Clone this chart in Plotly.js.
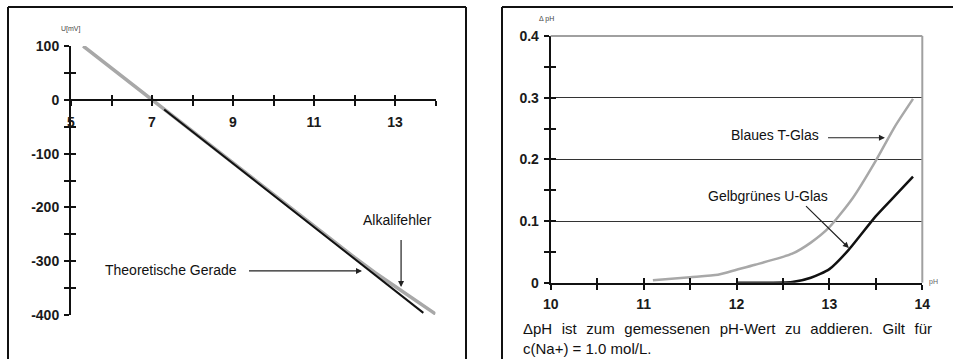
<!DOCTYPE html>
<html><head><meta charset="utf-8">
<script src="https://cdn.plot.ly/plotly-3.0.1.min.js"></script>
<style>html,body{margin:0;padding:0;background:#fff;}#chart{width:953px;height:359px;}</style>
</head><body><div id="chart"></div>
<script>
// ---- Left chart: U[mV] vs pH ----
const alkaliPH = [5.3, 7, 9, 11, 12, 12.5, 13, 13.5, 14];
const alkaliU  = [100, 0, -118, -236, -293, -321, -347, -373, -398];
const theoPH   = [7.3, 13.7];
const theoU    = [-18, -396];
const leftXTickVals = [5, 7, 9, 11, 13];
const leftXTickText = ['5', '7', '9', '11', '13'];
const leftYTickVals = [100, 0, -100, -200, -300, -400];
const leftYTickText = ['100', '0', '-100', '-200', '-300', '-400'];

// ---- Right chart: delta pH vs pH ----
const tGlasPH  = [11.1, 11.5, 11.8, 12.0, 12.2, 12.6, 12.8, 13.0, 13.25, 13.5, 13.7, 13.9];
const tGlasDpH = [0.004, 0.009, 0.013, 0.021, 0.029, 0.047, 0.065, 0.09, 0.137, 0.198, 0.252, 0.298];
const uGlasPH  = [12.0, 12.6, 12.8, 13.0, 13.2, 13.5, 13.7, 13.9];
const uGlasDpH = [0, 0.001, 0.008, 0.022, 0.052, 0.108, 0.14, 0.172];
const rightXTickVals = [10, 11, 12, 13, 14];
const rightXTickText = ['10', '11', '12', '13', '14'];
const rightYTickVals = [0, 0.1, 0.2, 0.3, 0.4];
const rightYTickText = ['0', '0.1', '0.2', '0.3', '0.4'];
const captionWords = ['\u0394pH', 'ist', 'zum', 'gemessenen', 'pH-Wert', 'zu', 'addieren.', 'Gilt', 'für'];
const captionLine2 = 'c(Na+) = 1.0 mol/L.';

const W = 953, H = 359;
const px = v => v / W;
const py = v => 1 - v / H;
const FONT = 'Liberation Sans, Arial, Helvetica, sans-serif';
const NB = '\u00a0';
const GAP = ' ' + NB + '\u200a';

const traces = [
  {x: alkaliPH, y: alkaliU, xaxis: 'x', yaxis: 'y', mode: 'lines', line: {color: '#a8a8a8', width: 3.5}, hoverinfo: 'skip'},
  {x: theoPH, y: theoU, xaxis: 'x', yaxis: 'y', mode: 'lines', line: {color: '#111', width: 2}, hoverinfo: 'skip'},
  {x: tGlasPH, y: tGlasDpH, xaxis: 'x2', yaxis: 'y2', mode: 'lines', line: {color: '#a8a8a8', width: 2.5, shape: 'spline', smoothing: 0.6}, hoverinfo: 'skip'},
  {x: uGlasPH, y: uGlasDpH, xaxis: 'x2', yaxis: 'y2', mode: 'lines', line: {color: '#111', width: 2.5, shape: 'spline', smoothing: 0.6}, hoverinfo: 'skip'},
  {x: [5], y: [0], xaxis: 'x3', yaxis: 'y3', mode: 'markers', marker: {opacity: 0}, hoverinfo: 'skip'},
  {x: [10], y: [0], xaxis: 'x4', yaxis: 'y4', mode: 'markers', marker: {opacity: 0}, hoverinfo: 'skip'}
];

const tickFont = {family: FONT, size: 14, color: '#1a1a1a', weight: 'bold'};
const annFont = {family: FONT, size: 14, color: '#111'};
const leftXDom = [px(71), px(435.5)];
const leftYDom = [py(315), py(46)];
const rightXDom = [px(550.7), px(922.3)];
const rightYDom = [py(282.7), py(36)];
const tk = {ticks: 'outside', ticklen: 5, tickwidth: 2, tickcolor: '#111'};
const tkIn = {ticks: 'inside', ticklen: 5, tickwidth: 2, tickcolor: '#111'};

const layout = {
  width: W, height: H,
  margin: {l: 0, r: 0, t: 0, b: 0},
  paper_bgcolor: '#fff', plot_bgcolor: 'rgba(0,0,0,0)',
  showlegend: false,
  font: {family: FONT},
  xaxis: Object.assign({domain: leftXDom, range: [5, 14], anchor: 'free', position: py(100), side: 'bottom',
    showline: true, linecolor: '#111', linewidth: 2, showgrid: false, zeroline: false,
    tickmode: 'array', tickvals: leftXTickVals, ticktext: leftXTickText,
    minor: Object.assign({dtick: 1, tick0: 5}, tk),
    tickfont: tickFont, ticklabelstandoff: 4, fixedrange: true}, tk),
  yaxis: Object.assign({domain: leftYDom, range: [-400, 100], anchor: 'x',
    showline: true, linecolor: '#111', linewidth: 2, showgrid: false, zeroline: false,
    tickmode: 'array', tickvals: leftYTickVals, ticktext: leftYTickText,
    minor: Object.assign({dtick: 50, tick0: 0}, tk),
    tickfont: tickFont, ticklabelstandoff: 2, fixedrange: true}, tk),
  xaxis3: Object.assign({domain: leftXDom, range: [5, 14], overlaying: 'x', anchor: 'free', position: py(100),
    showline: false, showgrid: false, zeroline: false, showticklabels: false,
    tickmode: 'linear', tick0: 5, dtick: 1, fixedrange: true}, tkIn),
  yaxis3: Object.assign({domain: leftYDom, range: [-400, 100], overlaying: 'y', anchor: 'x3',
    showline: false, showgrid: false, zeroline: false, showticklabels: false,
    tickmode: 'linear', tick0: 0, dtick: 50, fixedrange: true}, tkIn),

  xaxis2: Object.assign({domain: rightXDom, range: [10, 14], anchor: 'y2',
    showline: true, linecolor: '#111', linewidth: 2, showgrid: false, zeroline: false,
    tickmode: 'array', tickvals: rightXTickVals, ticktext: rightXTickText,
    minor: Object.assign({dtick: 0.5, tick0: 10}, tk),
    tickfont: tickFont, ticklabelstandoff: 2, fixedrange: true}, tk),
  yaxis2: Object.assign({domain: rightYDom, range: [0, 0.4], anchor: 'x2',
    showline: true, linecolor: '#111', linewidth: 2, zeroline: false,
    showgrid: true, gridcolor: '#333', gridwidth: 1,
    tickmode: 'array', tickvals: rightYTickVals, ticktext: rightYTickText,
    minor: Object.assign({dtick: 0.05, tick0: 0, showgrid: false}, tk),
    tickfont: tickFont, ticklabelstandoff: 2, fixedrange: true}, tk),
  xaxis4: Object.assign({domain: rightXDom, range: [10, 14], overlaying: 'x2', anchor: 'y4',
    showline: false, showgrid: false, zeroline: false, showticklabels: false,
    tickmode: 'linear', tick0: 10, dtick: 0.5, fixedrange: true}, tkIn),
  yaxis4: Object.assign({domain: rightYDom, range: [0, 0.4], overlaying: 'y2', anchor: 'x4',
    showline: false, showgrid: false, zeroline: false, showticklabels: false,
    tickmode: 'linear', tick0: 0, dtick: 0.05, fixedrange: true}, tkIn),

  shapes: [
    {type: 'line', xref: 'paper', yref: 'paper', x0: px(8), x1: px(466), y0: py(7), y1: py(7), line: {color: '#111', width: 2}},
    {type: 'line', xref: 'paper', yref: 'paper', x0: px(8), x1: px(8), y0: py(7), y1: py(362), line: {color: '#111', width: 2}},
    {type: 'line', xref: 'paper', yref: 'paper', x0: px(466), x1: px(466), y0: py(7), y1: py(362), line: {color: '#111', width: 2}},
    {type: 'line', xref: 'paper', yref: 'paper', x0: px(502), x1: px(955), y0: py(7), y1: py(7), line: {color: '#111', width: 2}},
    {type: 'line', xref: 'paper', yref: 'paper', x0: px(502), x1: px(502), y0: py(7), y1: py(362), line: {color: '#111', width: 2}},
    {type: 'line', xref: 'x2 domain', yref: 'y2 domain', x0: 0, x1: 1, y0: 1, y1: 1, line: {color: '#a0a0a0', width: 2}},
    {type: 'line', xref: 'x2 domain', yref: 'y2 domain', x0: 1, x1: 1, y0: 0, y1: 1, line: {color: '#a0a0a0', width: 2}}
  ],

  annotations: [
    {xref: 'paper', yref: 'paper', x: px(71), y: py(29), text: 'U[mV]', showarrow: false, font: {family: FONT, size: 7, color: '#444'}, xanchor: 'center', yanchor: 'middle'},
    {xref: 'x', yref: 'y', x: 7.47, y: -316, text: 'Theoretische Gerade', showarrow: false, font: annFont, xanchor: 'center', yanchor: 'middle'},
    {xref: 'x', yref: 'y', axref: 'x', ayref: 'y', x: 12.185, y: -318, ax: 9.32, ay: -318, text: ' ', showarrow: true, arrowhead: 2, arrowsize: 1, arrowwidth: 1.2, arrowcolor: '#222'},
    {xref: 'x', yref: 'y', x: 13.07, y: -223, text: 'Alkalifehler', showarrow: false, font: annFont, xanchor: 'center', yanchor: 'middle'},
    {xref: 'x', yref: 'y', axref: 'x', ayref: 'y', x: 13.15, y: -348, ax: 13.15, ay: -245, text: ' ', showarrow: true, arrowhead: 2, arrowsize: 1, arrowwidth: 1.2, arrowcolor: '#222'},

    {xref: 'paper', yref: 'paper', x: px(546), y: py(19), text: '\u0394 pH', showarrow: false, font: {family: FONT, size: 7, color: '#444'}, xanchor: 'center', yanchor: 'middle'},
    {xref: 'paper', yref: 'paper', x: px(933), y: py(282), text: 'pH', showarrow: false, font: {family: FONT, size: 7, color: '#666'}, xanchor: 'center', yanchor: 'middle'},
    {xref: 'x2', yref: 'y2', x: 12.414, y: 0.239, text: 'Blaues T-Glas', showarrow: false, font: annFont, xanchor: 'center', yanchor: 'middle'},
    {xref: 'x2', yref: 'y2', axref: 'x2', ayref: 'y2', x: 13.598, y: 0.235, ax: 12.953, ay: 0.235, text: ' ', showarrow: true, arrowhead: 2, arrowsize: 1, arrowwidth: 1.2, arrowcolor: '#222'},
    {xref: 'x2', yref: 'y2', x: 12.34, y: 0.1405, text: 'Gelbgrünes U-Glas', showarrow: false, font: annFont, xanchor: 'center', yanchor: 'middle'},
    {xref: 'x2', yref: 'y2', axref: 'x2', ayref: 'y2', x: 13.21, y: 0.0562, ax: 12.716, ay: 0.129, text: ' ', showarrow: true, arrowhead: 2, arrowsize: 1, arrowwidth: 1.2, arrowcolor: '#222'},

    {xref: 'paper', yref: 'paper', x: px(521), y: py(328), xanchor: 'left', yanchor: 'middle', showarrow: false,
      text: captionWords.join(GAP), font: {family: FONT, size: 15, color: '#111'}},
    {xref: 'paper', yref: 'paper', x: px(521), y: py(348), xanchor: 'left', yanchor: 'middle', showarrow: false,
      text: captionLine2, font: {family: FONT, size: 15, color: '#111'}}
  ]
};

Plotly.newPlot('chart', traces, layout, {staticPlot: true, displayModeBar: false});
</script>
</body></html>
